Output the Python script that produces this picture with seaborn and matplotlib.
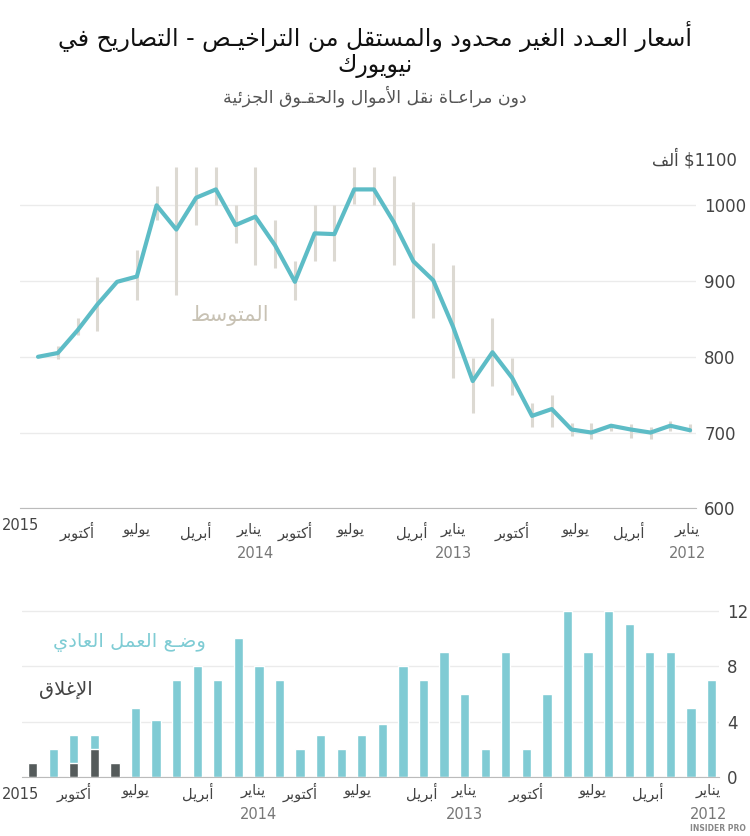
import numpy as np
import pandas as pd
import matplotlib
matplotlib.use("Agg")
import matplotlib.pyplot as plt
import seaborn as sns

# ---------- minimal Arabic shaping ----------
FORMS = {0x621:(0xFE80,1),0x622:(0xFE81,2),0x623:(0xFE83,2),0x624:(0xFE85,2),0x625:(0xFE87,2),
 0x626:(0xFE89,4),0x627:(0xFE8D,2),0x628:(0xFE8F,4),0x629:(0xFE93,2),0x62A:(0xFE95,4),0x62B:(0xFE99,4),
 0x62C:(0xFE9D,4),0x62D:(0xFEA1,4),0x62E:(0xFEA5,4),0x62F:(0xFEA9,2),0x630:(0xFEAB,2),0x631:(0xFEAD,2),
 0x632:(0xFEAF,2),0x633:(0xFEB1,4),0x634:(0xFEB5,4),0x635:(0xFEB9,4),0x636:(0xFEBD,4),0x637:(0xFEC1,4),
 0x638:(0xFEC5,4),0x639:(0xFEC9,4),0x63A:(0xFECD,4),0x641:(0xFED1,4),0x642:(0xFED5,4),0x643:(0xFED9,4),
 0x644:(0xFEDD,4),0x645:(0xFEE1,4),0x646:(0xFEE5,4),0x647:(0xFEE9,4),0x648:(0xFEED,2),0x649:(0xFEEF,2),
 0x64A:(0xFEF1,4)}
LAMALEF = {0x622:0xFEF5,0x623:0xFEF7,0x625:0xFEF9,0x627:0xFEFB}
TATWEEL = 0x640

def joins_fwd(c):
    o = ord(c)
    return o == TATWEEL or (o in FORMS and FORMS[o][1] == 4)

def joinable(c):
    o = ord(c)
    return o == TATWEEL or (o in FORMS and FORMS[o][1] > 1)

def shape(s):
    out = []
    i = 0
    n = len(s)
    while i < n:
        c = s[i]; o = ord(c)
        prev = s[i-1] if i > 0 else ' '
        jp = joins_fwd(prev)
        if o == 0x644 and i+1 < n and ord(s[i+1]) in LAMALEF:
            out.append(chr(LAMALEF[ord(s[i+1])] + (1 if jp else 0)))
            i += 2
            continue
        if o in FORMS:
            base, nf = FORMS[o]
            nxt = s[i+1] if i+1 < n else ' '
            jn = nf == 4 and joinable(nxt)
            if nf == 1:
                f = 0
            elif nf == 2:
                f = 1 if jp else 0
            else:
                f = 3 if (jp and jn) else 1 if jp else 2 if jn else 0
            out.append(chr(base + f))
        else:
            out.append(c)
        i += 1
    return ''.join(out)[::-1]

# ---------- data (left to right on the chart) ----------
mean_price = [800,805,835,869,899,906,1000,968,1010,1021,974,985,947,899,963,962,1021,1021,978,926,
              901,840,768,806,772,722,731,704,700,709,704,700,709,703]
range_low = [np.nan,797,829,834,np.nan,875,980,882,974,1000,950,921,917,875,926,926,1002,1000,921,851,
             851,772,726,761,750,707,707,696,691,702,693,691,702,701]
range_high = [np.nan,814,851,906,np.nan,941,1026,1050,1050,1050,1000,1050,980,926,1000,1000,1050,1050,1039,1004,
              950,921,799,851,799,739,750,713,713,711,711,707,715,711]
normal_count = [0,2,2,1,0,5,4.1,7,8,7,10,8,7,2,3,2,3,3.8,8,7,9,6,2,9,2,6,12,9,12,11,9,9,5,7]
closed_count = [1,0,1,2,1,0,0,0,0,0,0,0,0,0,0,0,0,0,0,0,0,0,0,0,0,0,0,0,0,0,0,0,0,0]
month_labels = ["أكتوبر","يوليو","أبريل","يناير","أكتوبر","يوليو","أبريل","يناير","أكتوبر","يوليو","أبريل","يناير"]
month_pos = [31,28,25,22.3,20.0,17.2,14.1,12,9,5.8,3.1,0.15]
year_labels = ["2014","2013","2012"]
year_pos = [22,12,0.15]

x = np.arange(len(mean_price))[::-1]
df = pd.DataFrame({"x": x, "mean": mean_price, "lo": range_low, "hi": range_high,
                   "normal": normal_count, "closed": closed_count})
df["total"] = df["normal"] + df["closed"]

TEAL = "#5dbcc6"; BAR = "#80cbd4"; DARK = "#555b5b"; ERR = "#dcd9d2"; GRID = "#ebebeb"; TXT = "#444444"
sns.set_style("white")
plt.rcParams['font.family'] = ['DejaVu Sans']

fig = plt.figure(figsize=(7.5, 8.36), dpi=100)

fig.text(0.5, 0.975, shape("أسعار العـدد الغير محدود والمستقل من التراخيـص - التصاريح في"),
         ha="center", va="top", fontsize=17, color="#111111")
fig.text(0.5, 0.935, shape("نيويورك"), ha="center", va="top", fontsize=17, color="#111111")
fig.text(0.5, 0.898, shape("دون مراعـاة نقل الأموال والحقـوق الجزئية"), ha="center", va="top",
         fontsize=12.5, color="#555555")

def style_axis(ax, yticks, year_y):
    for s in ["top", "left", "right"]:
        ax.spines[s].set_visible(False)
    ax.spines["bottom"].set_color("#bbbbbb")
    ax.yaxis.tick_right()
    ax.set_yticks(yticks)
    ax.tick_params(axis="y", length=0, labelsize=12, colors=TXT, pad=6)
    ax.set_xticks(np.arange(0, 34))
    ax.set_xticklabels([])
    ax.tick_params(axis="x", length=4, color="#bbbbbb", direction="out")
    ax.grid(axis="y", color=GRID, lw=1)
    ax.set_axisbelow(True)
    ax.set_xlabel(""); ax.set_ylabel("")
    for p, lab in zip(month_pos, month_labels):
        ax.text(p, -0.035, shape(lab), transform=ax.get_xaxis_transform(), ha="center", va="top",
                fontsize=10.5, color=TXT)
    for p, lab in zip(year_pos, year_labels):
        ax.text(p, year_y, lab, transform=ax.get_xaxis_transform(),
                ha="center", va="top", fontsize=10.5, color="#777777")
    fig.text(0.003, ax.get_position().y0 - 0.012, "2015", ha="left", va="top", fontsize=10.5, color=TXT)

# ---------- top chart ----------
ax_top = fig.add_axes([0.027, 0.392, 0.901, 0.453])
ax_top.vlines(df["x"], df["lo"], df["hi"], color=ERR, lw=2.2, zorder=1)
sns.lineplot(data=df, x="x", y="mean", ax=ax_top, color=TEAL, lw=3, zorder=3)
ax_top.set_xlim(33.9, -0.3)
ax_top.set_ylim(600, 1100)
style_axis(ax_top, [600, 700, 800, 900, 1000], -0.1)
fig.text(0.983, 0.81, shape("ألف") + " $1100", ha="right", va="center", fontsize=12, color=TXT)
ax_top.text(23.3, 855, shape("المتوسط"), ha="center", va="center", fontsize=15, color="#c8c2b4")

# ---------- bottom chart ----------
ax_bot = fig.add_axes([0.029, 0.0706, 0.929, 0.209])
sns.barplot(data=df, x="x", y="total", ax=ax_bot, native_scale=True, color=BAR, width=0.45,
            saturation=1, zorder=2)
sns.barplot(data=df[df["closed"] > 0], x="x", y="closed", ax=ax_bot, native_scale=True, color=DARK,
            width=0.45, saturation=1, zorder=3)
ax_bot.set_xlim(33.53, -0.34)
ax_bot.set_ylim(0, 12.6)
style_axis(ax_bot, [0, 4, 8, 12], -0.17)
ax_bot.text(28.3, 9.7, shape("وضـع العمل العادي"), ha="center", va="center", fontsize=14, color="#7fccd4")
ax_bot.text(31.4, 6.3, shape("الإغلاق"), ha="center", va="center", fontsize=14, color="#444444")

fig.text(0.995, 0.003, "INSIDER PRO", ha="right", va="bottom", fontsize=5.5, color="#888888",
         fontweight="bold")

fig.savefig("out.png", dpi=100)
